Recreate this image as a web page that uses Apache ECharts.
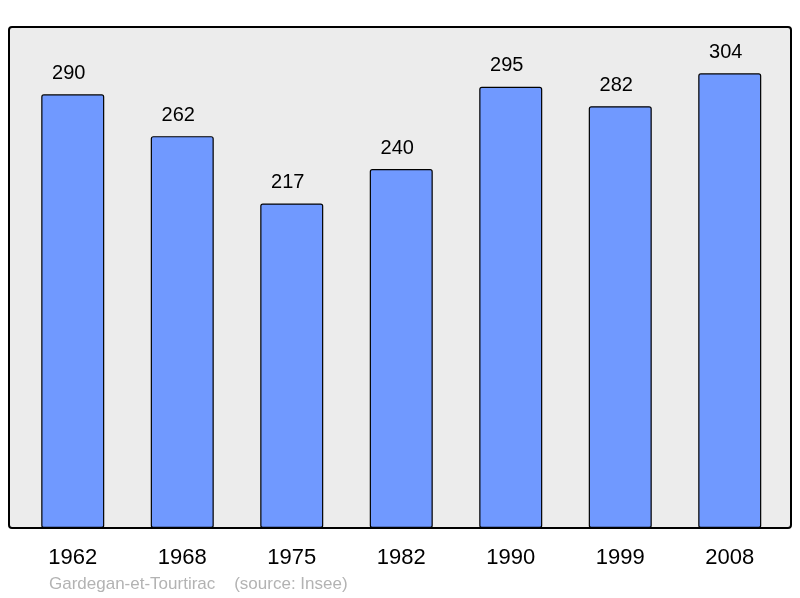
<!DOCTYPE html>
<html><head><meta charset="utf-8">
<script src="https://cdn.jsdelivr.net/npm/echarts@6/dist/echarts.min.js"></script>
<style>html,body{margin:0;padding:0;background:#fff}#c{width:800px;height:598px}</style>
</head><body><div id="c"></div>
<script>
var categories = ['1962','1968','1975','1982','1990','1999','2008'];
var population = [290, 262, 217, 240, 295, 282, 304];
var sourceText = 'Gardegan-et-Tourtirac    (source: Insee)';

var chart = echarts.init(document.getElementById('c'), null, {renderer:'canvas'});
chart.setOption({
  animation: false,
  backgroundColor: '#ffffff',
  graphic: [
    {type:'rect', z:-10, shape:{x:9, y:27, width:782, height:501, r:3},
     style:{fill:'#ececec', stroke:'#000', lineWidth:2}},
    {type:'text', left:49, top:576, style:{text: sourceText, fill:'#b3b3b3', font:'17px "Liberation Sans", Arial, sans-serif'}}
  ],
  grid: {left:18, right:15.5, top:27, bottom:70, containLabel:false},
  xAxis: {
    type:'category', data: categories,
    axisLine:{show:false}, axisTick:{show:false},
    axisLabel:{color:'#000', fontSize:22, fontFamily:'Liberation Sans', margin:19}
  },
  yAxis: {type:'value', min:0, max:335, show:false, splitLine:{show:false}},
  series: [{
    type:'bar', data: population, barWidth:63,
    itemStyle:{color:'#7099ff', borderColor:'#000', borderWidth:1.2, borderRadius:2},
    label:{show:true, position:'top', distance:11, offset:[-4,0], color:'#000', fontSize:20, fontFamily:'Liberation Sans'}
  }]
});
</script></body></html>
